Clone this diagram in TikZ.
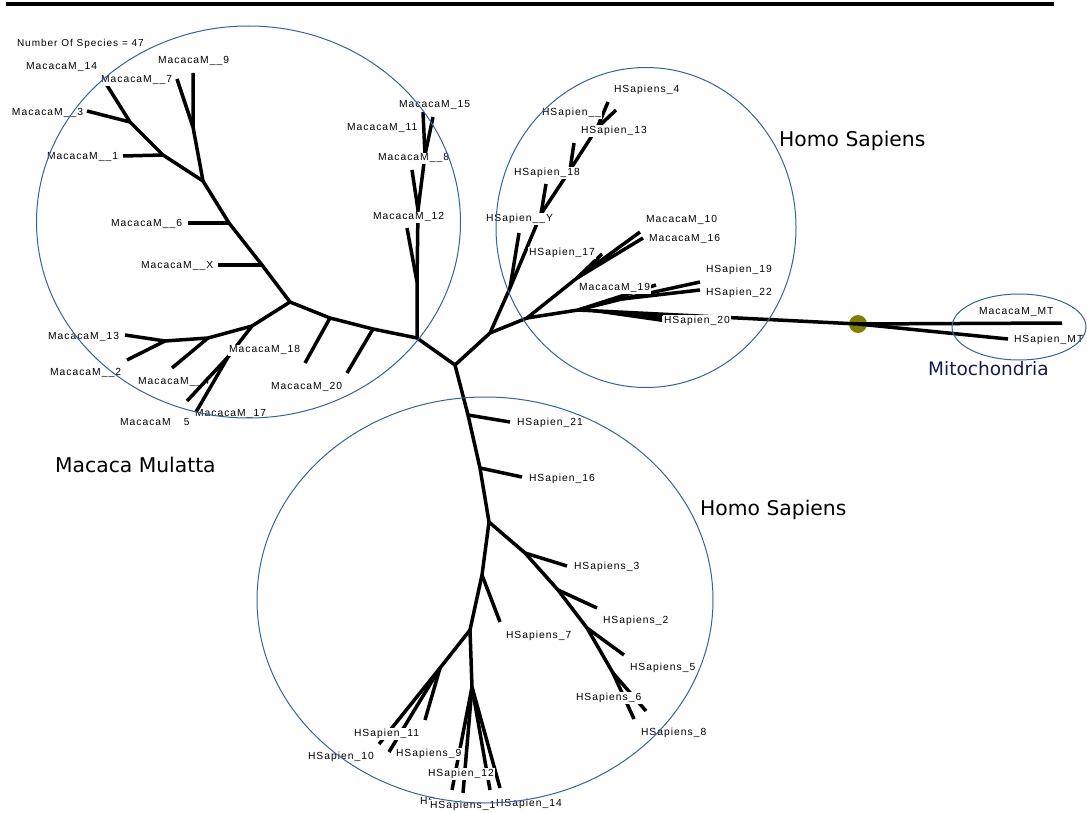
\documentclass[tikz,border=0pt]{standalone}
\usepackage{fontspec}
\newfontfamily\lblfam[LetterSpace=10]{Liberation Sans}
\newfontfamily\bigfam{DejaVu Sans}
\definecolor{cladeblue}{RGB}{52,98,160}
\definecolor{dotolive}{RGB}{128,128,0}
\definecolor{mitonavy}{RGB}{25,25,80}
\tikzset{
  br/.style={line width=3.5pt, line join=round},
  lbl/.style={anchor=base west, yshift=-3.7pt, inner sep=0.8pt, fill=white, font=\lblfam\fontsize{10.3}{12}\selectfont},
  lblnf/.style={lbl, fill=none},
  big/.style={anchor=base west, inner sep=0pt, font=\bigfam\fontsize{20.3}{24}\selectfont},
  clade/.style={draw=cladeblue, line width=1pt},
}
\begin{document}
\begin{tikzpicture}[x=1pt,y=-1pt]
\useasboundingbox (0,0) rectangle (1087,813);
% top bar
\coordinate (barL) at (6,4); \coordinate (barR) at (1054,4);
\draw[line width=3.5pt] (barL) -- (barR);
% ---------- coordinates ----------
\coordinate (C0) at (455,365);
% Macaca
\coordinate (M0) at (417,338);
\coordinate (mP) at (373,329); \coordinate (mQ) at (330,318);
\coordinate (l20a) at (347,373); \coordinate (l20b) at (305,363);
\coordinate (M1) at (290,302);
\coordinate (mA) at (262,265); \coordinate (lX) at (218,265);
\coordinate (mB) at (229,223); \coordinate (l6) at (188,223);
\coordinate (mC) at (203,181);
\coordinate (mD) at (163,155); \coordinate (l1) at (123,156);
\coordinate (mE) at (130,122); \coordinate (l3) at (87,111);
\coordinate (l14) at (103,79);
\coordinate (mF) at (193,127); \coordinate (l9) at (193,73); \coordinate (l7) at (177,79);
\coordinate (mG) at (252,326); \coordinate (mJ) at (228,357);
\coordinate (l4a) at (187,401); \coordinate (l17) at (196,412);
\coordinate (mH) at (208,338); \coordinate (l4b) at (172,368);
\coordinate (mI) at (165,341); \coordinate (l2) at (127,360); \coordinate (l13) at (125,335);
\coordinate (mK) at (417,282); \coordinate (l12) at (407,228);
\coordinate (mL) at (418,210); \coordinate (l8) at (412,170);
\coordinate (mN) at (425,155); \coordinate (l11) at (423,112); \coordinate (l15) at (433,117);
% upper Homo
\coordinate (H0) at (490,333);
\coordinate (hA) at (510,288); \coordinate (lY) at (519,233);
\coordinate (hB) at (541,214); \coordinate (hL18) at (546,184);
\coordinate (hC) at (570,170); \coordinate (hL13) at (574,143);
\coordinate (hD) at (597,128); \coordinate (hL4) at (608,102); \coordinate (hLx) at (616,110);
\coordinate (hE) at (527,318);
\coordinate (hF) at (577,278); \coordinate (lM10) at (640,232); \coordinate (lM16) at (643,238); \coordinate (lH17) at (602,254);
\coordinate (hH) at (578,310); \coordinate (hI) at (622,299);
\coordinate (lH19) at (700,282); \coordinate (lH22) at (700,290); \coordinate (lM19) at (656,285);
\coordinate (lH20a) at (662,314); \coordinate (lH20b) at (662,322);
\coordinate (lMT1) at (1062,323); \coordinate (lMT2) at (1008,339);
% bottom
\coordinate (bA) at (468,415); \coordinate (l21) at (510,422);
\coordinate (bB) at (480,468); \coordinate (l16) at (522,477);
\coordinate (B1) at (489,522);
\coordinate (bC) at (525,553); \coordinate (s3) at (567,566);
\coordinate (bD) at (558,590); \coordinate (s2) at (597,608);
\coordinate (bE) at (587,628); \coordinate (s5) at (624,655);
\coordinate (bF) at (613,673); \coordinate (s6) at (634,719); \coordinate (s8) at (646,711);
\coordinate (bG) at (482,575); \coordinate (s7) at (500,622);
\coordinate (B2) at (470,630);
\coordinate (bH) at (440,668); \coordinate (h10) at (379,744); \coordinate (s9) at (389,752); \coordinate (h11) at (425,720);
\coordinate (B3) at (472,687); \coordinate (b1) at (452,790); \coordinate (b2) at (463,793); \coordinate (b3) at (490,790); \coordinate (h14) at (500,788);
\node[circle, fill=dotolive, minimum size=18pt, inner sep=0pt] (dot) at (858,324) {};
% ---------- branches ----------
% Macaca
\draw[br] (C0) -- (M0) -- (mP) -- (mQ) -- (M1) -- (mA) -- (mB) -- (mC) -- (mD) -- (mE) -- (l14);
\draw[br] (mP) -- (l20a);
\draw[br] (mQ) -- (l20b);
\draw[br] (mA) -- (lX);
\draw[br] (mB) -- (l6);
\draw[br] (mD) -- (l1);
\draw[br] (mE) -- (l3);
\draw[br] (mC) -- (mF) -- (l9);
\draw[br] (mF) -- (l7);
\draw[br] (M1) -- (mG) -- (mH) -- (mI) -- (l13);
\draw[br] (mG) -- (mJ);
\draw[br] (mH) -- (l4b);
\draw[br] (mI) -- (l2);
\draw[br] (M0) -- (mK) -- (mL) -- (mN) -- (l11);
\draw[br] (mN) -- (l15);
\draw[br] (mL) -- (l8);
\draw[br] (mK) -- (l12);
% upper Homo
\draw[br] (C0) -- (H0) -- (hA) -- (hB) -- (hC) -- (hD) -- (hL4);
\draw[br] (hA) -- (lY);
\draw[br] (hB) -- (hL18);
\draw[br] (hC) -- (hL13);
\draw[br] (hD) -- (hLx);
\draw[br] (H0) -- (hE) -- (hF) -- (lM10);
\draw[br] (hF) -- (lM16);
\draw[br] (hF) -- (lH17);
\draw[br] (hE) -- (hH) -- (hI) -- (lH19);
\draw[br] (hI) -- (lH22);
\draw[br] (hH) -- (lM19);
\draw[br] (hH) -- (dot.center);
\fill (hH) -- (lH20a) -- (lH20b) -- cycle;
\draw[br] (dot.center) -- (lMT1);
\draw[br] (dot.center) -- (lMT2);
% bottom
\draw[br] (C0) -- (bA) -- (bB) -- (B1) -- (bC) -- (bD) -- (bE) -- (bF) -- (s6);
\draw[br] (bA) -- (l21);
\draw[br] (bB) -- (l16);
\draw[br] (bC) -- (s3);
\draw[br] (bD) -- (s2);
\draw[br] (bE) -- (s5);
\draw[br] (bF) -- (s8);
\draw[br] (B1) -- (bG) -- (B2) -- (B3) -- (b2);
\draw[br] (bG) -- (s7);
\draw[br] (B2) -- (bH) -- (h10);
\draw[br] (bH) -- (s9);
\draw[br] (bH) -- (h11);
\draw[br] (B3) -- (b1);
\draw[br] (B3) -- (b3);
\draw[br] (B3) -- (h14);
% ---------- labels ----------
\node[lbl, font=\lblfam\fontsize{10}{11}\selectfont] (nsp) at (16,43) {Number Of Species = 47};
\node[lbl] (t14) at (25,66) {MacacaM\_14};
\node[lbl] (t7) at (100,79) {MacacaM\_\_7};
\node[lbl] (t9) at (157,60) {MacacaM\_\_9};
\node[lbl] (t3) at (11,112) {MacacaM\_\_3};
\node[lbl] (t1) at (46,156) {MacacaM\_\_1};
\node[lbl] (t6) at (110,223) {MacacaM\_\_6};
\node[lbl] (tX) at (140,265) {MacacaM\_\_X};
\node[lbl] (t13) at (47,336) {MacacaM\_13};
\node[lbl] (t2) at (49,372) {MacacaM\_\_2};
\node[lblnf] (t4) at (137,381) {MacacaM\_\_4};
\node[lbl] (t18) at (228,349) {MacacaM\_18};
\node[lbl] (t17) at (194,413) {MacacaM\_17};
\node[lbl] (t5) at (119,422) {MacacaM\hspace{13pt}5};
\node[lbl] (t20) at (270,386) {MacacaM\_20};
\node[lbl] (t15) at (398,104) {MacacaM\_15};
\node[lbl] (t11) at (346,127) {MacacaM\_11};
\node[lbl] (t8) at (377,157) {MacacaM\_\_8};
\node[lbl] (t12) at (372,216) {MacacaM\_12};
\node[lbl] (u4) at (613,89) {HSapiens\_4};
\node[lbl] (ux) at (541,112) {HSapien\_\_};
\node[lbl] (u13) at (580,130) {HSapien\_13};
\node[lbl] (u18) at (513,172) {HSapien\_18};
\node[lbl] (uY) at (485,218) {HSapien\_\_Y};
\node[lbl] (u17) at (528,252) {HSapien\_17};
\node[lbl] (v10) at (645,219) {MacacaM\_10};
\node[lbl] (v16) at (648,238) {MacacaM\_16};
\node[lbl] (u19) at (705,269) {HSapien\_19};
\node[lbl] (u22) at (705,292) {HSapien\_22};
\node[lbl] (v19) at (578,287) {MacacaM\_19};
\node[lbl] (u20) at (663,320) {HSapien\_20};
\node[lbl] (vMT) at (978,311) {MacacaM\_MT};
\node[lbl] (uMT) at (1013,339) {HSapien\_MT};
\node[lbl] (w21) at (516,422) {HSapien\_21};
\node[lbl] (w16) at (528,478) {HSapien\_16};
\node[lbl] (w3) at (573,566) {HSapiens\_3};
\node[lbl] (w2) at (602,620) {HSapiens\_2};
\node[lbl] (w5) at (629,667) {HSapiens\_5};
\node[lbl] (w6) at (575,697) {HSapiens\_6};
\node[lbl] (w8) at (640,732) {HSapiens\_8};
\node[lbl] (w7) at (505,635) {HSapiens\_7};
\node[lbl] (w11) at (353,733) {HSapien\_11};
\node[lbl] (w10) at (307,756) {HSapien\_10};
\node[lbl] (w9) at (395,753) {HSapiens\_9};
\node[lbl] (w12) at (427,773) {HSapien\_12};
\node[lbl] (whid) at (419,801) {HS};
\node[lbl] (w1) at (429,805) {HSapiens\_1};
\node[lbl] (w14) at (495,803) {HSapien\_14};
% lines drawn over the MacacaM__4 label
\draw[br] (mJ) -- (l4a);
\draw[br] (mJ) -- (l17);
% ---------- clade outlines ----------
\draw[clade] (248.5,222) ellipse [x radius=212, y radius=196];
\draw[clade] (646,227.5) ellipse [x radius=150, y radius=160];
\draw[clade] (485,600) ellipse [x radius=228, y radius=203];
\draw[clade] (1019,327) ellipse [x radius=67, y radius=33];
% ---------- group titles ----------
\node[big] (tMac) at (55,472) {Macaca Mulatta};
\node[big] (tHS1) at (779,147) {Homo Sapiens};
\node[big] (tHS2) at (700,515) {Homo Sapiens};
\node[big, text=mitonavy, font=\bigfam\fontsize{18.5}{22}\selectfont] (tMito) at (928,375) {Mitochondria};
\end{tikzpicture}
\end{document}
